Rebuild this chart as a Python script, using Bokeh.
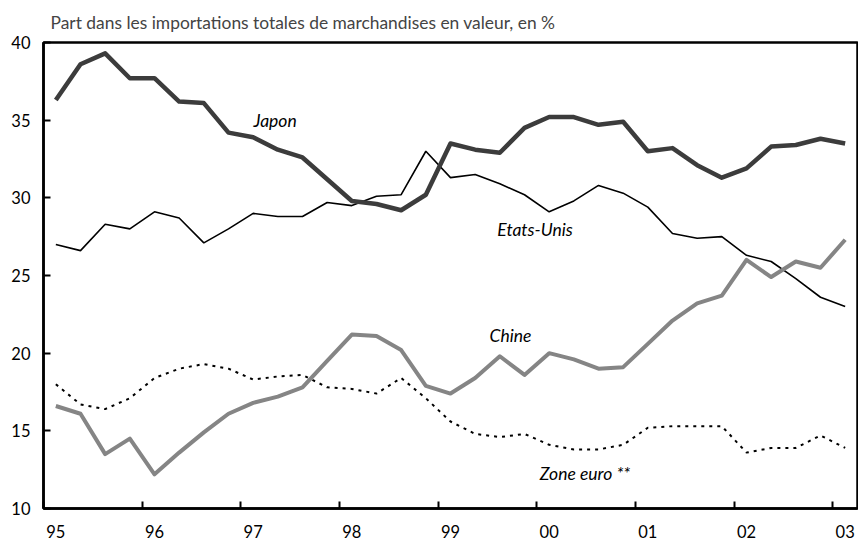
from bokeh.plotting import figure
from bokeh.models import Range1d, FixedTicker, Label
from bokeh.embed import file_html
from bokeh.resources import INLINE

# Quarterly observations 1995 T1 .. 2003 T1
quarters = [f"{y}T{q}" for y in range(1995, 2004) for q in range(1, 5)][:33]

japon = [36.3, 38.6, 39.3, 37.7, 37.7, 36.2, 36.1, 34.2, 33.9, 33.1, 32.6,
         31.2, 29.8, 29.6, 29.2, 30.2, 33.5, 33.1, 32.9, 34.5, 35.2, 35.2,
         34.7, 34.9, 33.0, 33.2, 32.1, 31.3, 31.9, 33.3, 33.4, 33.8, 33.5]
etats_unis = [27.0, 26.6, 28.3, 28.0, 29.1, 28.7, 27.1, 28.0, 29.0, 28.8, 28.8,
              29.7, 29.5, 30.1, 30.2, 33.0, 31.3, 31.5, 30.9, 30.2, 29.1, 29.8,
              30.8, 30.3, 29.4, 27.7, 27.4, 27.5, 26.3, 25.9, 24.8, 23.6, 23.0]
chine = [16.6, 16.1, 13.5, 14.5, 12.2, 13.6, 14.9, 16.1, 16.8, 17.2, 17.8,
         19.5, 21.2, 21.1, 20.2, 17.9, 17.4, 18.4, 19.8, 18.6, 20.0, 19.6,
         19.0, 19.1, 20.6, 22.1, 23.2, 23.7, 26.0, 24.9, 25.9, 25.5, 27.3]
zone_euro = [18.0, 16.7, 16.4, 17.1, 18.4, 19.0, 19.3, 19.0, 18.3, 18.5, 18.6,
             17.8, 17.7, 17.4, 18.4, 17.1, 15.6, 14.8, 14.6, 14.8, 14.1, 13.8,
             13.8, 14.1, 15.2, 15.3, 15.3, 15.3, 13.6, 13.9, 13.9, 14.7, 13.9]

tick_years = [1995, 1996, 1997, 1998, 1999, 2000, 2001, 2002, 2003]
tick_labels = ["95", "96", "97", "98", "99", "00", "01", "02", "03"]
y_ticks = [10, 15, 20, 25, 30, 35, 40]

title_text = "Part dans les importations totales de marchandises en valeur, en %"

x = [int(q[:4]) + (int(q[-1]) - 0.5) / 4 for q in quarters]
label_pos = [yr + 0.125 for yr in tick_years]   # year labels sit under the first quarter

FONT = "Lato"

p = figure(width=858, height=545, output_backend="svg", toolbar_location=None,
           x_range=Range1d(1995, 2003.25), y_range=Range1d(10, 40),
           min_border_left=43, min_border_right=1, min_border_top=42,
           min_border_bottom=37)

p.title.text = title_text
p.title.text_font = FONT
p.title.text_font_style = "normal"
p.title.text_font_size = "17.4px"
p.title.align = "left"
p.title.offset = 7
p.title.standoff = 19

p.xgrid.visible = False
p.ygrid.visible = False
p.outline_line_color = "black"
p.outline_line_width = 2.5
p.outline_line_alpha = 1.0
p.background_fill_color = "white"
p.border_fill_color = "white"

# x axis: tick marks at year boundaries (minor), labels under first quarter (major)
p.xaxis.ticker = FixedTicker(ticks=label_pos, minor_ticks=tick_years)
p.xaxis.major_label_overrides = {pos: lab for pos, lab in zip(label_pos, tick_labels)}
p.xaxis.major_tick_line_color = None
p.xaxis.major_tick_in = 0
p.xaxis.major_tick_out = 0
p.xaxis.minor_tick_in = 7
p.xaxis.minor_tick_out = 0
p.xaxis.minor_tick_line_width = 2
p.xaxis.minor_tick_line_color = "black"

p.yaxis.ticker = FixedTicker(ticks=y_ticks)
p.yaxis.major_tick_in = 7
p.yaxis.major_tick_out = 0
p.yaxis.major_tick_line_width = 2
p.yaxis.major_tick_line_color = "black"
p.yaxis.minor_tick_line_color = None

for ax in (p.xaxis[0], p.yaxis[0]):
    ax.axis_line_width = 2.5
    ax.axis_line_color = "black"
    ax.major_label_text_font = FONT
    ax.major_label_text_font_size = "16.5px"
    ax.major_label_text_color = "black"
p.xaxis.major_label_standoff = 16
p.yaxis.major_label_standoff = 13

p.line(x, zone_euro, line_color="black", line_width=2, line_dash="3 5")
p.line(x, etats_unis, line_color="black", line_width=1.6)
p.line(x, chine, line_color="#858585", line_width=4, line_join="round")
p.line(x, japon, line_color="#3c3c3c", line_width=4.5, line_join="round")

labels = [("Japon", 1997.128, 35.0), ("Etats-Unis", 1999.6, 27.96),
          ("Chine", 1999.52, 21.13), ("Zone euro **", 2000.03, 12.25)]
for txt, lx, ly in labels:
    p.add_layout(Label(x=lx, y=ly, text=txt, text_font=FONT, text_font_style="italic",
                       text_font_size="17.5px", text_baseline="middle", text_align="left",
                       text_color="black"))

open("out.html", "w").write(file_html(p, INLINE))
